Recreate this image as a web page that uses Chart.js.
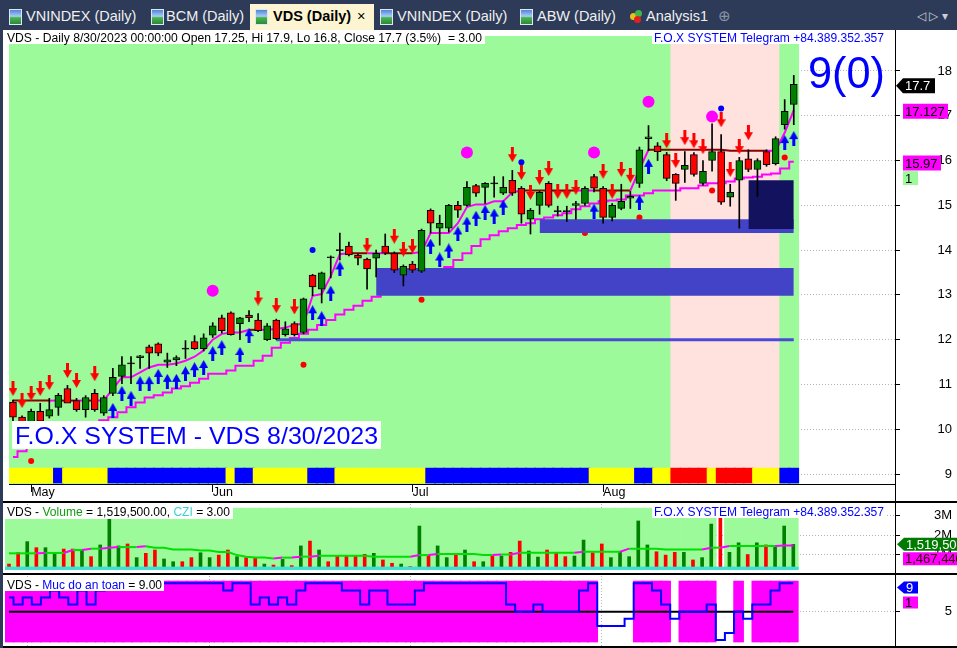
<!DOCTYPE html>
<html>
<head>
<meta charset="utf-8">
<title>VDS (Daily)</title>
<script src="https://cdn.jsdelivr.net/npm/chart.js@4.4.1/dist/chart.umd.min.js"></script>
<style>
  html, body { margin: 0; padding: 0; }
  body { width: 957px; height: 648px; background: #2d3b58; position: relative; overflow: hidden;
         font-family: "Liberation Sans", Arial, sans-serif; }
  .tab { position: absolute; top: 4px; height: 26px; line-height: 25px; font-size: 14.5px; color: #f0f0f0; white-space: nowrap; }
  .tab.act { color: #000; font-weight: bold; }
  .tabbg { position: absolute; top: 4px; height: 26px; background: #fdf5d2; }
  .ico { position: absolute; top: 9px; width: 11px; height: 14px; border: 1px solid #dfe7f5;
         background: linear-gradient(#4f86dc 0%, #a9cdf3 45%, #49b450 55%, #2a8a36 100%); }
  .ball { position: absolute; width: 7px; height: 7px; border-radius: 50%; }
  #panel { position: absolute; left: 3px; top: 30px; width: 954px; height: 618px; background: #fff; }
  #panel canvas { position: absolute; left: 0; }
  .hl { position: absolute; left: 0; width: 954px; height: 2px; background: #000; }
  .vl { position: absolute; left: 892px; top: 0; width: 1px; height: 618px; background: #000; }
</style>
</head>
<body>
<div class="ico" style="left:9px"></div><div class="tab" style="left:26px">VNINDEX (Daily)</div>
<div class="ico" style="left:151px"></div><div class="tab" style="left:166px">BCM (Daily)</div>
<div class="tabbg" style="left:250px;width:124px"></div>
<div class="ico" style="left:255px"></div><div class="tab act" style="left:273px">VDS (Daily)</div>
<div class="tab act" style="left:357px;font-weight:normal">×</div>
<div class="ico" style="left:380px"></div><div class="tab" style="left:397px">VNINDEX (Daily)</div>
<div class="ico" style="left:520px"></div><div class="tab" style="left:537px">ABW (Daily)</div>
<div class="ball" style="left:630px;top:13px;background:#e8c21a"></div>
<div class="ball" style="left:635px;top:10px;background:#3fb54a"></div>
<div class="ball" style="left:634px;top:16px;background:#e02020"></div>
<div class="tab" style="left:646px">Analysis1</div>
<div class="tab" style="left:718px;color:#8b95a8">⊕</div>
<div class="tab" style="left:917px;color:#c8d0dc;font-size:12px">◁ ▷ ▾</div>

<div id="panel">
  <canvas id="priceChart" width="954" height="472" style="top:0"></canvas>
  <canvas id="volumeChart" width="954" height="72" style="top:472px"></canvas>
  <canvas id="safetyChart" width="954" height="74" style="top:544px"></canvas>
  <div class="hl" style="top:471px"></div>
  <div class="hl" style="top:543px"></div>
  <div class="hl" style="top:616px"></div>
  <div class="vl"></div>
</div>

<script>
// ---- data (one entry per trading day, 27 Apr .. 30 Aug 2023) ----
const ticker = 'VDS';
const lastDate = '8/30/2023';
const monthStarts = [2, 22, 44, 65];
const monthNames = ['May', 'Jun', 'Jul', 'Aug'];
const priceTicks = [9, 10, 11, 12, 13, 14, 15, 16, 17, 18];
const volumeTicks = [1, 2, 3];
const safetyTicks = [5];

const openP = [10.6, 10.27, 10.16, 10.4, 10.29, 10.49, 10.91, 10.64, 10.44, 10.8,
  10.36, 10.8, 11.18, 11.47, 11.6, 11.84, 11.91, 11.5, 11.55, 11.8,
  11.96, 11.8, 12.1, 12.49, 12.6, 12.36, 12.55, 12.44, 12.0, 12.44,
  12.11, 12.36, 12.16, 13.44, 13.13, 13.84, 14.0, 14.09, 13.89, 13.8,
  13.82, 14.09, 13.93, 13.44, 13.69, 13.53, 14.89, 14.49, 14.49, 15.0,
  15.0, 15.44, 15.4, 15.49, 15.27, 15.56, 15.38, 14.69, 15.0, 15.49,
  14.87, 14.87, 15.0, 15.04, 15.64, 15.38, 14.73, 14.93, 15.16, 15.49,
  16.49, 16.33, 16.13, 15.69, 15.8, 16.13, 15.49, 16.0, 16.2, 15.18,
  15.56, 16.04, 15.8, 16.2, 15.93, 16.8, 17.25];
const highP = [10.65, 10.3, 10.45, 10.58, 10.69, 10.8, 10.98, 10.69, 10.75, 10.89,
  10.75, 11.36, 11.62, 11.62, 11.65, 11.88, 11.93, 11.7, 11.64, 11.98,
  12.09, 12.13, 12.38, 12.55, 12.62, 12.5, 12.65, 12.58, 12.36, 12.46,
  12.4, 12.4, 12.93, 13.46, 13.51, 13.87, 14.38, 14.18, 13.91, 13.82,
  14.0, 14.36, 13.96, 13.67, 13.75, 14.47, 14.92, 14.78, 15.02, 15.09,
  15.53, 15.47, 15.51, 15.64, 15.64, 15.78, 15.42, 14.93, 15.31, 15.53,
  14.98, 14.98, 15.09, 15.42, 15.69, 15.42, 15.04, 15.47, 15.31, 16.3,
  16.78, 16.4, 16.18, 15.71, 16.2, 16.18, 16.0, 16.82, 16.58, 15.47,
  16.07, 16.24, 16.04, 16.24, 16.53, 17.36, 17.9];
const lowP = [10.1, 10.1, 10.1, 10.15, 10.25, 10.31, 10.85, 10.4, 10.27, 10.4,
  10.31, 10.75, 11.02, 11.02, 11.36, 11.36, 11.64, 11.38, 11.42, 11.58,
  11.78, 11.75, 12.05, 12.15, 12.1, 12.0, 12.4, 12.18, 11.98, 12.0,
  12.08, 12.08, 12.13, 12.98, 12.82, 13.38, 13.78, 13.87, 13.67, 13.13,
  13.4, 13.9, 13.5, 13.2, 13.5, 13.5, 14.38, 14.11, 14.4, 14.73,
  14.98, 15.2, 15.04, 15.18, 15.24, 15.22, 14.6, 14.36, 14.8, 14.96,
  14.76, 14.64, 14.69, 15.0, 15.3, 14.6, 14.65, 14.9, 14.93, 15.4,
  16.22, 16.0, 15.55, 15.11, 15.51, 15.65, 15.45, 15.76, 15.02, 14.98,
  14.49, 15.75, 15.2, 15.87, 15.9, 16.7, 16.8];
const closeP = [10.27, 10.15, 10.4, 10.18, 10.44, 10.76, 10.58, 10.44, 10.71, 10.44,
  10.71, 11.16, 11.44, 11.47, 11.64, 11.7, 11.7, 11.55, 11.6, 11.8,
  11.8, 12.04, 12.31, 12.2, 12.11, 12.49, 12.49, 12.2, 12.31, 12.02,
  12.24, 12.11, 12.91, 13.18, 13.49, 13.84, 14.0, 13.89, 13.82, 13.58,
  13.93, 13.93, 13.55, 13.64, 13.55, 14.44, 14.6, 14.6, 15.0, 14.89,
  15.4, 15.27, 15.49, 15.49, 15.4, 15.27, 14.8, 14.89, 15.29, 15.0,
  14.87, 14.87, 15.04, 15.38, 15.38, 14.73, 15.0, 15.09, 15.2, 16.24,
  16.53, 16.2, 15.6, 15.49, 15.89, 15.69, 15.76, 16.2, 15.07, 15.29,
  16.0, 15.8, 16.0, 15.91, 16.49, 17.1, 17.7];

// trailing stop lines
const stopUpper = [10.64, 10.64, 10.64, 10.64, 10.64, 10.64, 10.64, 10.64, 10.64, 10.64,
  10.64, 10.9, 11.16, 11.16, 11.27, 11.38, 11.44, 11.44, 11.47, 11.53,
  11.62, 11.76, 12.0, 12.13, 12.16, 12.16, 12.22, 12.22, 12.22, 12.24,
  12.27, 12.33, 12.36, 12.98, 13.02, 13.42, 13.91, 13.93, 13.93, 13.93,
  13.93, 13.93, 13.93, 13.93, 13.93, 13.96, 14.38, 14.38, 14.38, 14.6,
  14.96, 15.02, 15.02, 15.09, 15.09, 15.29, 15.33, 15.33, 15.33, 15.33,
  15.33, 15.33, 15.33, 15.33, 15.33, 15.33, 15.33, 15.33, 15.33, 15.8,
  16.24, 16.24, 16.24, 16.24, 16.24, 16.24, 16.24, 16.24, 16.24, 16.22,
  16.22, 16.22, 16.22, 16.22, 16.22, 16.62, 17.127];
const stopLower = [9.38, 9.51, 9.6, 9.69, 9.78, 9.87, 9.93, 10.02, 10.09, 10.16,
  10.2, 10.27, 10.38, 10.49, 10.6, 10.71, 10.76, 10.82, 10.91, 10.96,
  11.04, 11.13, 11.24, 11.24, 11.31, 11.42, 11.42, 11.53, 11.64, 11.82,
  11.93, 12.04, 12.13, 12.22, 12.33, 12.44, 12.56, 12.67, 12.76, 12.87,
  12.96, 13.04, 13.11, 13.2, 13.29, 13.38, 13.47, 13.53, 13.62, 13.78,
  13.93, 14.09, 14.24, 14.33, 14.42, 14.49, 14.56, 14.6, 14.69, 14.73,
  14.78, 14.82, 14.91, 14.98, 15.04, 15.09, 15.11, 15.13, 15.22, 15.22,
  15.27, 15.33, 15.33, 15.33, 15.38, 15.38, 15.44, 15.49, 15.49, 15.53,
  15.6, 15.62, 15.64, 15.69, 15.71, 15.82, 15.97];

// signals: [bar, price]
const sellArrows = [[0, 10.91], [1, 10.64], [2, 10.8], [3, 10.91], [4, 11.04], [6, 11.31], [7, 11.09], [9, 11.24],
  [27, 12.93], [29, 12.76], [31, 12.73], [39, 14.11], [42, 14.31], [43, 14.02], [44, 14.09],
  [55, 16.13], [56, 15.73], [57, 15.29], [58, 15.62], [59, 15.82], [60, 15.31], [61, 15.31], [62, 15.4],
  [65, 15.76], [66, 15.31], [67, 15.8], [68, 15.67], [72, 16.44], [73, 16.0], [74, 16.51], [75, 16.44],
  [76, 16.31], [78, 16.91], [79, 15.8], [80, 16.31], [81, 16.62]];
const buyArrows = [[11, 10.42], [12, 10.8], [13, 10.69], [14, 11.02], [15, 11.02], [16, 11.18], [17, 11.07],
  [18, 11.07], [19, 11.24], [20, 11.33], [21, 11.38], [22, 11.69], [23, 11.82], [25, 11.67], [26, 12.09],
  [33, 12.6], [34, 12.47], [35, 13.04], [36, 13.58], [46, 14.09], [47, 13.78], [48, 13.98], [49, 14.36],
  [50, 14.58], [51, 14.71], [52, 14.84], [53, 14.76], [54, 14.96], [64, 14.87], [69, 15.07], [70, 15.87],
  [85, 16.4], [86, 16.49]];
const redDots = [[2, 9.29], [32, 11.44], [45, 12.89], [63, 14.38], [69, 14.73], [77, 15.33], [85, 16.07]];
const blueDots = [[33, 14.0], [56, 15.96], [78, 17.16]];
const pinkDots = [[22, 13.09], [50, 16.18], [64, 16.18], [70, 17.31], [77, 16.98]];

// support / resistance zones
const zoneStart = [40, 58, 81];
const zoneEnd = [86, 86, 86];
const zoneLow = [12.98, 14.38, 14.47];
const zoneHigh = [13.6, 14.69, 15.56];
const supportLevel = 12.0;
const supportStart = 29;

// background regime (G green, P pink) and bottom ribbon (Y yellow, B blue, R red)
const regime = 'GGGGGGGGGGGGGGGGGGGGGGGGGGGGGGGGGGGGGGGGGGGGGGGGGGGGGGGGGGGGGGGGGGGGGGGGG' + 'PPPPPPPPPPPP' + 'GG';
const ribbon = 'YYYYY' + 'B' + 'YYYYY' + 'BBBBBBBBBBBBB' + 'Y' + 'BB' + 'YYYYYY' + 'BBB' + 'YYYYYYYYYY' +
  'BBBBBBBBBBBBBBBBBB' + 'YYYYY' + 'BB' + 'YY' + 'RRRR' + 'Y' + 'RRRR' + 'YYY' + 'BB';
const signalCount = 1;

// volume pane (millions)
const volume = [0.51, 1.09, 1.66, 1.35, 1.35, 1.11, 1.28, 1.28, 1.23, 0.89,
  1.49, 2.86, 1.44, 1.54, 0.84, 1.06, 1.23, 0.77, 0.63, 0.63,
  0.84, 1.09, 0.84, 0.97, 1.23, 0.89, 0.84, 0.84, 0.51, 0.46,
  0.75, 0.43, 1.44, 1.69, 1.23, 0.63, 0.94, 0.94, 0.92, 1.01,
  1.06, 0.72, 0.55, 0.51, 0.38, 2.46, 0.97, 1.44, 0.84, 1.06,
  1.23, 0.63, 0.63, 0.92, 0.92, 1.11, 1.69, 1.18, 0.87, 1.23,
  1.11, 0.89, 0.92, 1.74, 1.09, 1.54, 0.84, 1.11, 0.89, 2.72,
  1.49, 1.14, 0.97, 1.11, 1.11, 0.72, 0.84, 2.56, 2.87, 1.11,
  1.6, 1.0, 1.6, 1.49, 1.38, 2.46, 1.5195];
const volumeMA = [1.06, 1.06, 1.06, 1.06, 1.08, 1.08, 1.08, 1.23, 1.23, 1.3,
  1.3, 1.35, 1.38, 1.38, 1.38, 1.42, 1.35, 1.35, 1.26, 1.26,
  1.26, 1.2, 1.2, 1.13, 1.13, 0.97, 0.89, 0.84, 0.84, 0.8,
  0.84, 0.84, 0.89, 0.89, 0.94, 0.94, 0.94, 0.94, 0.94, 0.94,
  0.89, 0.89, 0.89, 0.89, 0.89, 0.97, 0.97, 1.02, 1.02, 1.02,
  1.02, 1.02, 0.97, 0.97, 1.0, 1.0, 1.09, 1.09, 1.09, 1.09,
  1.09, 1.09, 1.09, 1.14, 1.14, 1.14, 1.14, 1.14, 1.3, 1.3,
  1.3, 1.3, 1.26, 1.26, 1.26, 1.26, 1.26, 1.35, 1.35, 1.44,
  1.44, 1.44, 1.44, 1.44, 1.44, 1.46, 1.46744];
const bandLevels = [3.38, null, 2.87];
const bandRuns = [78, 1, 8];
const cziValue = 3.0;

// "Muc do an toan" pane
const safety = [7, 6, 7, 6, 7, 8, 7, 6, 8, 6,
  8, 9, 9, 9, 9, 9, 9, 9, 9, 9,
  9, 9, 9, 9, 8, 9, 9, 6, 7, 6,
  7, 6, 8, 9, 9, 9, 9, 8, 8, 6,
  8, 8, 6, 6, 6, 8, 9, 9, 9, 9,
  9, 9, 9, 9, 9, 6, 5, 5, 6, 5,
  5, 5, 5, 8, 9, 3, 3, 3, 4, 9,
  9, 8, 6, 4, 5, 5, 5, 6, 1, 2,
  5, 4, 6, 6, 8, 9, 9];
const safetyLevel = 5;
const safetyAux = 1;

// ---- helpers ----
const FONT = '"Liberation Sans", Arial, sans-serif';
Chart.defaults.font.family = FONT;
Chart.defaults.color = '#000';

const last = openP.length - 1;
const idx = openP.map((_, i) => i);
const pts = arr => arr.map((v, i) => ({x: i, y: v}));
const sparse = pairs => pairs.map(([i, v]) => ({x: i, y: v}));
const dir = i => closeP[i] > openP[i] ? 1 : (closeP[i] < openP[i] ? -1 : 0);

const GREEN_BG = '#9dfa9a', PINK_BG = '#ffe1de';
const ribbonColor = {Y: '#ffff00', B: '#0000ff', R: '#ff0000'};

const volumeBand = [];
bandLevels.forEach((lv, k) => { for (let n = 0; n < bandRuns[k]; n++) volumeBand.push(lv); });

function arrowSprite(color, up) {
  const c = document.createElement('canvas');
  c.width = 9; c.height = 15;
  const g = c.getContext('2d');
  g.fillStyle = color;
  g.beginPath();
  if (up) {
    g.moveTo(4.5, 0); g.lineTo(9, 8); g.lineTo(6, 8); g.lineTo(6, 15);
    g.lineTo(3, 15); g.lineTo(3, 8); g.lineTo(0, 8);
  } else {
    g.moveTo(3, 0); g.lineTo(6, 0); g.lineTo(6, 7); g.lineTo(9, 7);
    g.lineTo(4.5, 15); g.lineTo(0, 7); g.lineTo(3, 7);
  }
  g.closePath();
  g.fill();
  return c;
}

function xScale(showLabels) {
  return {
    type: 'linear', min: -0.4386, max: 97.15, offset: false,
    afterBuildTicks: s => { s.ticks = monthStarts.map(v => ({value: v})); },
    afterFit: s => { s.height = showLabels ? 18 : 0; s.paddingLeft = 0; s.paddingRight = 0; },
    grid: {offset: false, color: '#b4b4b4', drawTicks: showLabels, tickLength: 8, tickColor: '#000', tickBorderDash: []},
    border: {display: showLabels, color: '#000', width: 1, dash: [1, 2]},
    ticks: {display: showLabels, autoSkip: false, maxRotation: 0, align: 'start', labelOffset: 0, padding: -7,
      font: {size: 12.5}, color: '#000', callback: (v, i) => monthNames[i]}
  };
}

// axis box is 57px wide and the layout keeps 5px on the right, so "far" labels end at x=951
function yScale(min, max, ticks, fmt) {
  return {
    position: 'right', min: min, max: max,
    afterBuildTicks: s => { s.ticks = ticks.map(v => ({value: v})); },
    afterFit: s => { s.width = 57; s.paddingTop = 0; s.paddingBottom = 0; },
    grid: {color: '#b4b4b4', drawTicks: true, tickLength: 5, tickColor: '#000', tickBorderDash: []},
    border: {display: false, dash: [1, 2]},
    ticks: {crossAlign: 'far', padding: 4, font: {size: 13}, color: '#000', callback: fmt || (v => String(v))}
  };
}

function richText(ctx, parts, x, baseline, px, width, bold) {
  ctx.save();
  ctx.font = (bold ? 'bold ' : '') + px + 'px ' + FONT;
  ctx.textAlign = 'left';
  ctx.textBaseline = 'alphabetic';
  const total = parts.reduce((s, p) => s + ctx.measureText(p[0]).width, 0);
  ctx.translate(x, baseline);
  ctx.scale(width / total, 1);
  let cx = 0;
  parts.forEach(([t, c]) => { ctx.fillStyle = c; ctx.fillText(t, cx, 0); cx += ctx.measureText(t).width; });
  ctx.restore();
}

function whiteBox(ctx, x, y, w, h) {
  ctx.save(); ctx.fillStyle = '#fff'; ctx.fillRect(x, y, w, h); ctx.restore();
}

function tag(ctx, x, yc, w, h, bg, fg, text, arrow) {
  ctx.save();
  ctx.fillStyle = bg;
  ctx.beginPath();
  if (arrow) {
    ctx.moveTo(x, yc); ctx.lineTo(x + 7, yc - h / 2); ctx.lineTo(x + w, yc - h / 2);
    ctx.lineTo(x + w, yc + h / 2); ctx.lineTo(x + 7, yc + h / 2);
  } else {
    ctx.rect(x, yc - h / 2, w, h);
  }
  ctx.closePath();
  ctx.fill();
  ctx.fillStyle = fg;
  ctx.font = '13px ' + FONT;
  ctx.textAlign = 'left';
  ctx.textBaseline = 'middle';
  ctx.fillText(text, x + (arrow ? 9 : 2), yc + 1);
  ctx.restore();
}

const baseOptions = pad => ({
  responsive: false, animation: false, devicePixelRatio: 1, events: [],
  layout: {padding: pad},
  plugins: {legend: {display: false}, tooltip: {enabled: false}}
});

// ---- price pane ----
const priceMin = 8.778, priceMax = 18.78;
const priceSets = [];
priceSets.push({type: 'bar', order: 100, grouped: false, barThickness: 10,
  data: idx.map(i => ({x: i, y: [priceMin - 1, priceMax + 1]})),
  backgroundColor: c => regime[c.dataIndex] === 'P' ? PINK_BG : GREEN_BG});
priceSets.push({type: 'bar', order: 90, grouped: false, barThickness: 10,
  data: idx.map(i => ({x: i, y: [8.8, 9.133]})),
  backgroundColor: c => ribbonColor[ribbon[c.dataIndex]]});
priceSets.push({type: 'line', order: 80, data: pts(stopLower), stepped: 'middle',
  borderColor: '#ff00ff', borderWidth: 2, pointRadius: 0});
priceSets.push({type: 'line', order: 79, data: pts(stopUpper), borderWidth: 2, pointRadius: 0,
  borderColor: '#ff00ff',
  segment: {borderColor: c => {
    const a = stopUpper[c.p0DataIndex], b = stopUpper[c.p1DataIndex];
    return (b <= a && b > closeP[c.p1DataIndex]) ? '#8b0000' : '#ff00ff';
  }}});
[[redDots, '#ff0000', 3], [blueDots, '#0000ff', 3], [pinkDots, '#ff00ff', 6]].forEach(([d, col, r]) => {
  priceSets.push({type: 'line', order: 70, showLine: false, data: sparse(d),
    pointRadius: r, pointBackgroundColor: col, pointBorderWidth: 0, pointStyle: 'circle'});
});
zoneStart.forEach((s, k) => {
  const col = k === 2 ? '#12125e' : '#4343c8';
  const inZone = i => i >= s && i <= zoneEnd[k];
  priceSets.push({type: 'line', order: 60 - k, data: idx.map(i => ({x: i, y: inZone(i) ? zoneHigh[k] : null})),
    borderColor: 'transparent', pointRadius: 0, fill: false});
  priceSets.push({type: 'line', order: 60 - k, data: idx.map(i => ({x: i, y: inZone(i) ? zoneLow[k] : null})),
    borderColor: 'transparent', pointRadius: 0, fill: '-1', backgroundColor: col});
});
priceSets.push({type: 'line', order: 55,
  data: idx.map(i => ({x: i, y: i >= supportStart ? supportLevel : null})),
  borderColor: '#4a4ad8', borderWidth: 3, pointRadius: 0});
priceSets.push({type: 'bar', order: 50, grouped: false, barThickness: 1,
  data: idx.map(i => ({x: i, y: [lowP[i], highP[i]]})), backgroundColor: '#000'});
priceSets.push({type: 'bar', order: 49, grouped: false, barThickness: 7, borderWidth: 1, borderColor: '#000',
  borderSkipped: false,
  data: idx.map(i => ({x: i, y: dir(i) === 0 ? [openP[i] - 0.011, openP[i] + 0.011] : [openP[i], closeP[i]]})),
  backgroundColor: c => ({'1': '#008000', '-1': '#ff0000', '0': '#000'})[dir(c.dataIndex)]});
priceSets.push({type: 'line', order: 10, showLine: false, data: sparse(sellArrows),
  pointStyle: arrowSprite('#ff0000', false), pointRadius: 5});
priceSets.push({type: 'line', order: 10, showLine: false, data: sparse(buyArrows),
  pointStyle: arrowSprite('#0000ff', true), pointRadius: 5});

const priceOverlay = {
  id: 'priceOverlay',
  afterDraw(chart) {
    const ctx = chart.ctx, y = chart.scales.y;
    const pct = ((closeP[last] / closeP[last - 1] - 1) * 100).toFixed(1);
    whiteBox(ctx, 1, 1, 481, 13);
    richText(ctx, [[`${ticker} - Daily ${lastDate} 00:00:00 Open ${openP[last]}, Hi ${highP[last]}, Lo ${lowP[last]}, Close ${closeP[last]} (${pct}%)  = ${cziValue.toFixed(2)}`, '#000']],
      4, 11.5, 12, 475);
    whiteBox(ctx, 649, 1, 235, 13);
    richText(ctx, [['F.O.X SYSTEM Telegram +84.389.352.357', '#0000ff']], 651, 11.5, 12, 230);
    richText(ctx, [[`${safety[last]}(0)`, '#0000ff']], 805, 58, 44, 77);
    whiteBox(ctx, 9, 391, 369, 28);
    richText(ctx, [[`F.O.X SYSTEM - ${ticker} ${lastDate}`, '#0000ff']], 12, 414, 24.5, 363);
    tag(ctx, 893, y.getPixelForValue(closeP[last]) + 1.5, 39, 15, '#000', '#fff', String(closeP[last]), true);
    tag(ctx, 900, y.getPixelForValue(stopUpper[last]) + 1.2, 45, 15, '#ff00ff', '#000', String(stopUpper[last]), false);
    const yl = y.getPixelForValue(stopLower[last]) + 1.2;
    tag(ctx, 900, yl, 38, 15, '#ff00ff', '#000', String(stopLower[last]), false);
    tag(ctx, 900, yl + 15, 15, 14, GREEN_BG, '#000', String(signalCount), false);
  }
};

new Chart(document.getElementById('priceChart'), {
  type: 'bar',
  data: {datasets: priceSets},
  options: Object.assign(baseOptions({left: 2, top: 1, right: 5, bottom: 0}), {
    scales: {x: xScale(true), y: yScale(priceMin, priceMax, priceTicks)}
  }),
  plugins: [priceOverlay]
});

// ---- volume pane ----
const volumeOverlay = {
  id: 'volumeOverlay',
  afterDraw(chart) {
    const ctx = chart.ctx, y = chart.scales.y;
    const volText = (volume[last] * 1e6).toLocaleString('en-US', {minimumFractionDigits: 2, maximumFractionDigits: 2});
    whiteBox(ctx, 1, 3, 229, 14);
    richText(ctx, [[`${ticker} - `, '#000'], ['Volume', '#109a10'], [` = ${volText}, `, '#000'],
      ['CZI', '#3fd0d0'], [` = ${cziValue.toFixed(2)}`, '#000']], 4, 14, 12, 223);
    whiteBox(ctx, 649, 2, 235, 14);
    richText(ctx, [['F.O.X SYSTEM Telegram +84.389.352.357', '#0000ff']], 651, 13.5, 12, 230);
    const yv = y.getPixelForValue(volume[last]);
    tag(ctx, 894, yv, 60, 13, '#007a00', '#fff', Math.round(volume[last] * 1e6).toLocaleString('en-US'), true);
    tag(ctx, 900, yv + 14.5, 54, 13, '#ff00ff', '#300', Math.round(volumeMA[last] * 1e6).toLocaleString('en-US'), false);
  }
};

new Chart(document.getElementById('volumeChart'), {
  type: 'bar',
  data: {datasets: [
    {type: 'bar', order: 100, grouped: false, barThickness: 10, backgroundColor: GREEN_BG,
      data: volumeBand.map((v, i) => ({x: i, y: v}))},
    {type: 'bar', order: 50, grouped: false, barThickness: 3,
      data: pts(volume), backgroundColor: c => dir(c.dataIndex) > 0 ? '#008000' : '#ff0000'},
    {type: 'bar', order: 45, grouped: false, barThickness: 10, yAxisID: 'yc', backgroundColor: '#40e0d0',
      data: idx.map(i => ({x: i, y: cziValue}))},
    {type: 'line', order: 40, data: pts(volumeMA), borderWidth: 2, pointRadius: 0, borderColor: '#00e000',
      segment: {borderColor: c => volumeMA[c.p1DataIndex] > volumeMA[c.p0DataIndex] ? '#ff00ff' : '#00e000'}}
  ]},
  options: Object.assign(baseOptions({left: 2, top: 2, right: 5, bottom: 4}), {
    scales: {
      x: xScale(false),
      y: yScale(0.205, 3.59, volumeTicks, v => v + 'M'),
      yc: {display: false, min: 0, max: 66}
    }
  }),
  plugins: [volumeOverlay]
});

// ---- safety pane ----
const safetyOverlay = {
  id: 'safetyOverlay',
  afterDraw(chart) {
    const ctx = chart.ctx, y = chart.scales.y;
    whiteBox(ctx, 1, 4, 160, 13);
    richText(ctx, [[`${ticker} - `, '#000'], ['Muc do an toan', '#0000ff'], [` = ${safety[last].toFixed(2)}`, '#000']],
      4, 14.5, 12, 155);
    const yc = Math.max(y.getPixelForValue(safety[last]) + 1, chart.chartArea.top + 11.5);
    tag(ctx, 894, yc, 21, 12, '#0000ff', '#fff', String(safety[last]), true);
    tag(ctx, 900, yc + 15, 15, 12, '#ff00ff', '#000', String(safetyAux), false);
  }
};

new Chart(document.getElementById('safetyChart'), {
  type: 'bar',
  data: {datasets: [
    {type: 'bar', order: 100, grouped: false, barThickness: 10, backgroundColor: '#ff00ff',
      data: idx.map(i => ({x: i, y: safety[i] >= safetyLevel ? [0.73, 9.32] : null}))},
    {type: 'line', order: 50, data: idx.map(i => ({x: i, y: safetyLevel})), borderColor: '#000', borderWidth: 2, pointRadius: 0},
    {type: 'line', order: 40, data: pts(safety), stepped: 'middle', borderColor: '#0000ff', borderWidth: 2, pointRadius: 0}
  ]},
  options: Object.assign(baseOptions({left: 2, top: 2, right: 5, bottom: 2}), {
    scales: {x: xScale(false), y: yScale(0.17, 10.03, safetyTicks)}
  }),
  plugins: [safetyOverlay]
});
</script>
</body>
</html>
